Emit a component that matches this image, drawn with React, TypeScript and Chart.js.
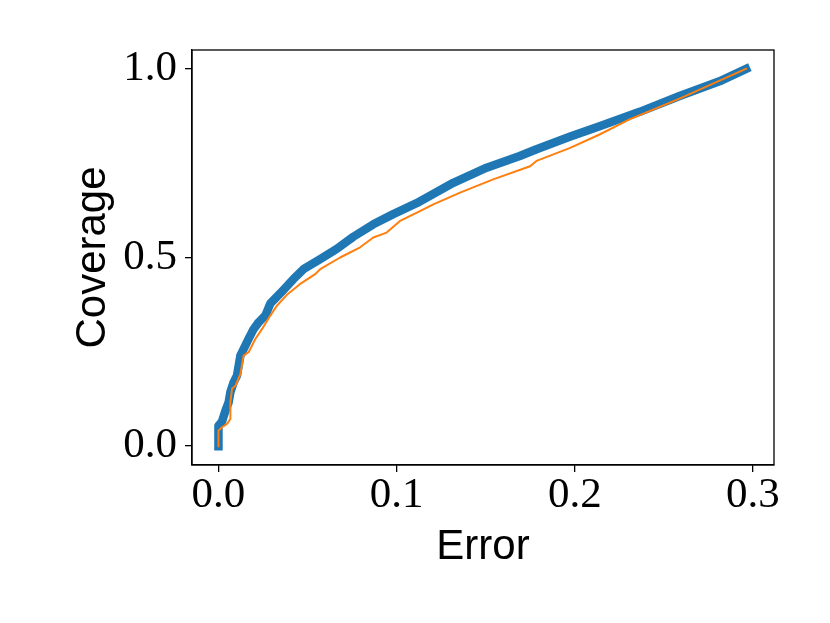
import React, { useEffect, useRef } from "react";
import { Chart, registerables } from "chart.js";

Chart.register(...registerables);

// Blue curve (thick)
const blueError = [
  0, 0, 0.002, 0.0039, 0.0057, 0.0067, 0.0085, 0.0104, 0.0123, 0.0141, 0.0169,
  0.0197, 0.0225, 0.0263, 0.0291, 0.0347, 0.0421, 0.0477, 0.0571, 0.0664,
  0.0757, 0.0869, 0.0981, 0.1112, 0.1318, 0.1505, 0.1691, 0.1785, 0.1971,
  0.2139, 0.2364, 0.2588, 0.2812, 0.2961,
];
const blueCoverage = [
  0, 0.054, 0.065, 0.094, 0.116, 0.143, 0.169, 0.187, 0.24, 0.257, 0.284,
  0.31, 0.328, 0.346, 0.378, 0.405, 0.443, 0.469, 0.496, 0.523, 0.555, 0.588,
  0.615, 0.644, 0.698, 0.738, 0.769, 0.787, 0.82, 0.848, 0.886, 0.928, 0.967,
  1.0,
];

// Orange curve (thin)
const orangeError = [
  0, 0, 0.002, 0.0048, 0.0067, 0.0067, 0.0076, 0.0095, 0.0123, 0.0141, 0.0169,
  0.0207, 0.0244, 0.0291, 0.0328, 0.0384, 0.0459, 0.0543, 0.0571, 0.0683,
  0.0795, 0.0869, 0.0944, 0.1019, 0.1131, 0.1206, 0.1356, 0.1542, 0.1749,
  0.1785, 0.1971, 0.2139, 0.2307, 0.2588, 0.2961,
];
const orangeCoverage = [
  0, 0.041, 0.05, 0.059, 0.072, 0.116, 0.152, 0.16, 0.191, 0.24, 0.249, 0.284,
  0.31, 0.346, 0.372, 0.401, 0.43, 0.456, 0.469, 0.5, 0.527, 0.553, 0.566,
  0.597, 0.623, 0.641, 0.672, 0.707, 0.742, 0.756, 0.79, 0.826, 0.866, 0.921,
  1.0,
];

const xTicks = [0, 0.1, 0.2, 0.3];
const yTicks = [0, 0.5, 1.0];

const toPoints = (xs: number[], ys: number[]) => xs.map((x, i) => ({ x, y: ys[i] }));

const serif = '"Liberation Serif", "DejaVu Serif", serif';
const sans = '"Liberation Sans", "DejaVu Sans", sans-serif';

const framePlugin = {
  id: "frame",
  afterDraw(chart: any) {
    const { ctx, chartArea } = chart;
    ctx.save();
    ctx.strokeStyle = "#000";
    ctx.lineWidth = 1.3;
    ctx.strokeRect(chartArea.left, chartArea.top, chartArea.right - chartArea.left, chartArea.bottom - chartArea.top);
    ctx.restore();
  },
};

export default function App() {
  const ref = useRef<HTMLCanvasElement | null>(null);
  useEffect(() => {
    if (!ref.current) return;
    const chart = new Chart(ref.current, {
      type: "line",
      data: {
        datasets: [
          {
            label: "orange",
            data: toPoints(orangeError, orangeCoverage),
            borderColor: "#ff7f0e",
            borderWidth: 2,
            pointRadius: 0,
            tension: 0,
            borderJoinStyle: "round",
            borderCapStyle: "square",
            order: 0,
          },
          {
            label: "blue",
            data: toPoints(blueError, blueCoverage),
            borderColor: "#1f77b4",
            borderWidth: 8.5,
            pointRadius: 0,
            tension: 0,
            borderJoinStyle: "round",
            borderCapStyle: "square",
            order: 1,
          },
        ],
      },
      options: {
        animation: false,
        responsive: false,
        devicePixelRatio: 1,
        layout: { padding: { top: 50, right: 56, left: 0, bottom: 0 } },
        plugins: { legend: { display: false }, tooltip: { enabled: false } },
        scales: {
          x: {
            type: "linear",
            position: "bottom",
            min: -0.01485,
            max: 0.3118,
            afterFit: (s: any) => {
              s.height = 158;
            },
            afterBuildTicks: (s: any) => {
              s.ticks = xTicks.map((v) => ({ value: v }));
            },
            ticks: {
              color: "#000",
              padding: 0,
              maxRotation: 0,
              autoSkip: false,
              font: { family: serif, size: 43, lineHeight: 1.1 },
              callback: (v: any) => Number(v).toFixed(1),
            },
            grid: { drawOnChartArea: false, drawTicks: true, tickLength: 7, color: "#000", lineWidth: 1.3 },
            border: { display: true, color: "#000", width: 1.3 },
            title: {
              display: true,
              text: "Error",
              color: "#000",
              font: { family: sans, size: 42 },
              padding: { top: 0, bottom: 50 },
            },
          },
          y: {
            type: "linear",
            position: "left",
            min: -0.05,
            max: 1.05,
            afterFit: (s: any) => {
              s.width = 192;
            },
            afterBuildTicks: (s: any) => {
              s.ticks = yTicks.map((v) => ({ value: v }));
            },
            ticks: {
              color: "#000",
              padding: 8,
              autoSkip: false,
              font: { family: serif, size: 43 },
              callback: (v: any) => Number(v).toFixed(1),
            },
            grid: { drawOnChartArea: false, drawTicks: true, tickLength: 7, color: "#000", lineWidth: 1.3 },
            border: { display: true, color: "#000", width: 1.3 },
            title: {
              display: true,
              text: "Coverage",
              color: "#000",
              font: { family: sans, size: 42 },
              padding: { top: 68, bottom: 0 },
            },
          },
        },
      },
      plugins: [framePlugin],
    } as any);
    return () => chart.destroy();
  }, []);
  return (
    <div style={{ position: "fixed", left: 0, top: 0, width: 830, height: 623, background: "#fff" }}>
      <canvas ref={ref} width={830} height={623} />
    </div>
  );
}
